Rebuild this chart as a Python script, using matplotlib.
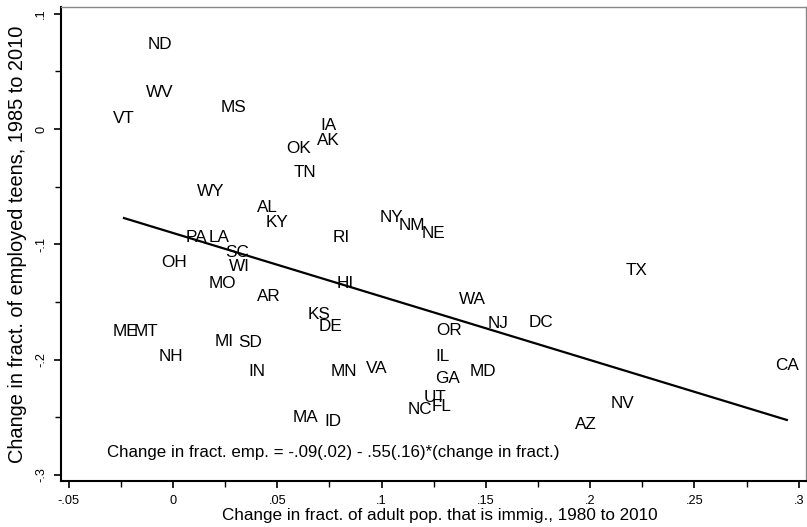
import matplotlib
matplotlib.use("Agg")
import matplotlib.pyplot as plt
import numpy as np
from matplotlib.ticker import MultipleLocator, FixedLocator

plt.rcParams['font.family'] = ['Liberation Sans', 'DejaVu Sans']

states = ["ND", "WV", "VT", "MS", "IA", "AK", "OK", "TN", "WY", "AL", "KY", "RI",
          "NY", "NM", "NE", "PA", "LA", "SC", "OH", "WI", "MO", "AR", "HI", "KS",
          "DE", "ME", "MT", "MI", "SD", "NH", "IN", "MN", "VA", "MA", "ID",
          "TX", "WA", "NJ", "DC", "OR", "IL", "MD", "GA", "UT", "NC", "FL",
          "NV", "AZ", "CA"]
imm_change = [-0.0062, -0.0062, -0.0235, 0.0288, 0.0743, 0.0743, 0.0604, 0.0633, 0.0182,
              0.0455, 0.0499, 0.0805, 0.1045, 0.1146, 0.1251, 0.0110, 0.0220, 0.0307,
              0.0005, 0.0316, 0.0235, 0.0460, 0.0825, 0.0700, 0.0753, -0.0230, -0.0130,
              0.0245, 0.0369, -0.0010, 0.0403, 0.0820, 0.0978, 0.0633, 0.0767,
              0.2224, 0.1433, 0.1558, 0.1764, 0.1323, 0.1290, 0.1486, 0.1318, 0.1256,
              0.1184, 0.1290, 0.2157, 0.1980, 0.2943]
emp_change = [0.0737, 0.0320, 0.0095, 0.0190, 0.0026, -0.0104, -0.0165, -0.0380, -0.0546,
              -0.0685, -0.0815, -0.0937, -0.0772, -0.0833, -0.0910, -0.0945, -0.0937, -0.1075,
              -0.1160, -0.1190, -0.1336, -0.1457, -0.1336, -0.1610, -0.1717, -0.1760, -0.1760,
              -0.1847, -0.1856, -0.1977, -0.2100, -0.2107, -0.2080, -0.2500, -0.2533,
              -0.1223, -0.1483, -0.1690, -0.1680, -0.1750, -0.1970, -0.2107, -0.2160, -0.2333,
              -0.2430, -0.2410, -0.2385, -0.2560, -0.2055]

fit_intercept = -0.0902
fit_slope = -0.551

xticks = [-0.05, 0, 0.05, 0.1, 0.15, 0.2, 0.25, 0.3]
xticklabels = ["-.05", "0", ".05", ".1", ".15", ".2", ".25", ".3"]
yticks = [-0.3, -0.2, -0.1, 0, 0.1]
yticklabels = ["-.3", "-.2", "-.1", "0", ".1"]

equation = "Change in fract. emp. = -.09(.02) - .55(.16)*(change in fract.)"
xlabel = "Change in fract. of adult pop. that is immig., 1980 to 2010"
ylabel = "Change in fract. of employed teens, 1985 to 2010"

fig = plt.figure(figsize=(8.07, 5.27), dpi=100)
ax = fig.add_axes([61/807, 46/527, 745/807, 474/527])

for s, x, y in zip(states, imm_change, emp_change):
    ax.text(x, y, s, ha='center', va='center', fontsize=12.3, color='black')

xs = np.array([min(imm_change), max(imm_change)])
ax.plot(xs, fit_intercept + fit_slope * xs, color='black', lw=1.6)

ax.text(-0.0316, -0.281, equation, ha='left', va='center', fontsize=12.2)

ax.set_xlim(-0.0537, 0.3035)
ax.set_ylim(-0.3053, 0.1058)
ax.xaxis.set_major_locator(FixedLocator(xticks))
ax.set_xticklabels(xticklabels, fontsize=9.2)
ax.xaxis.set_minor_locator(MultipleLocator(0.025))
ax.yaxis.set_major_locator(FixedLocator(yticks))
ax.set_yticklabels(yticklabels, fontsize=9.2, rotation=90, va='center')
ax.yaxis.set_minor_locator(MultipleLocator(0.05))
ax.tick_params(which='major', length=5, width=1.2, direction='out', pad=5)
ax.tick_params(which='minor', length=4, width=1.0, direction='out')

for side in ['left', 'bottom']:
    ax.spines[side].set_color('black')
    ax.spines[side].set_linewidth(1.5)
for side in ['top', 'right']:
    ax.spines[side].set_color('#888888')
    ax.spines[side].set_linewidth(1.0)

ax.set_xlabel(xlabel, fontsize=12.3, labelpad=1)
ax.xaxis.set_label_coords(0.509, -0.058)
ax.set_ylabel(ylabel, fontsize=14.4, labelpad=6)

fig.savefig("out.png", dpi=100, facecolor='white')
